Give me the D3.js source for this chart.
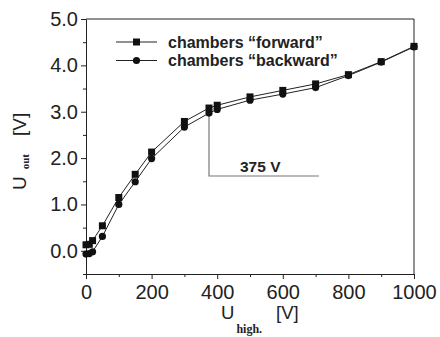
<!DOCTYPE html>
<html>
<head>
<meta charset="utf-8">
<script src="https://cdn.jsdelivr.net/npm/d3@7"></script>
<style>
  body { margin: 0; background: #fff; }
  text { font-family: "Liberation Sans", Arial, sans-serif; }
</style>
</head>
<body>
<div id="chart"></div>
<script>
// data
const voltages = [0, 10, 20, 50, 100, 150, 200, 300, 375, 400, 500, 600, 700, 800, 900, 1000];
const forward = [0.13, 0.14, 0.22, 0.54, 1.15, 1.65, 2.13, 2.79, 3.08, 3.14, 3.32, 3.46, 3.60, 3.80, 4.08, 4.41];
const backward = [-0.07, -0.06, -0.02, 0.31, 1.00, 1.49, 1.99, 2.67, 2.97, 3.05, 3.25, 3.38, 3.52, 3.78, 4.07, 4.40];
const xTicks = [0, 200, 400, 600, 800, 1000];
const yTicks = [0, 1, 2, 3, 4, 5];
const seriesNames = ['chambers \u201cforward\u201d', 'chambers \u201cbackward\u201d'];
const markedVoltage = 375;

const width = 440, height = 337;
const margin = {top: 19, right: 26, bottom: 63, left: 86};
const w = width - margin.left - margin.right;
const h = height - margin.top - margin.bottom;

const svg = d3.select('#chart')
  .append('svg')
  .attr('width', width)
  .attr('height', height);

const g = svg.append('g')
  .attr('transform', 'translate(' + margin.left + ',' + margin.top + ')');

const x = d3.scaleLinear().domain([0, 1000]).range([0, w]);
const y = d3.scaleLinear().domain([-0.5, 5.0]).range([h, 0]);

// frame (top + right)
g.append('path')
  .attr('d', 'M0,0H' + w + 'V' + h)
  .attr('fill', 'none')
  .attr('stroke', '#222')
  .attr('stroke-width', 1);

// x axis: minor then major ticks
g.append('g')
  .attr('transform', 'translate(0,' + h + ')')
  .call(d3.axisBottom(x).tickValues(d3.range(100, 1000, 200)).tickSize(3).tickFormat(''))
  .call(a => a.select('.domain').remove())
  .selectAll('line').attr('stroke', '#222');

const xAxis = g.append('g')
  .attr('transform', 'translate(0,' + h + ')')
  .call(d3.axisBottom(x).tickValues(xTicks).tickSize(5).tickSizeOuter(0).tickPadding(6).tickFormat(d3.format('d')));
xAxis.select('.domain').attr('stroke', '#222');
xAxis.selectAll('line').attr('stroke', '#222');
xAxis.selectAll('text').style('font-size', '20px').attr('fill', '#222');

// y axis
g.append('g')
  .call(d3.axisLeft(y).tickValues(d3.range(-0.5, 5, 1)).tickSize(3).tickFormat(''))
  .call(a => a.select('.domain').remove())
  .selectAll('line').attr('stroke', '#222');

const yAxis = g.append('g')
  .call(d3.axisLeft(y).tickValues(yTicks).tickSize(5).tickSizeOuter(0).tickPadding(3).tickFormat(d3.format('.1f')));
yAxis.select('.domain').attr('stroke', '#222');
yAxis.selectAll('line').attr('stroke', '#222');
yAxis.selectAll('text').style('font-size', '20px').attr('fill', '#222');

// annotation at 375 V
const annY = 176 - margin.top;
g.append('path')
  .attr('d', 'M' + x(markedVoltage) + ',' + (y(backward[8]) + 2) + 'V' + annY + 'H' + x(710))
  .attr('fill', 'none')
  .attr('stroke', '#777')
  .attr('stroke-width', 1.2);
g.append('text')
  .attr('x', x(markedVoltage) + 31)
  .attr('y', annY - 4)
  .style('font-size', '15.5px')
  .style('font-weight', 'bold')
  .attr('fill', '#222')
  .text(markedVoltage + ' V');

// data lines and markers
const line = d3.line().x(d => x(d[0])).y(d => y(d[1]));
const fwd = voltages.map((v, i) => [v, forward[i]]);
const bwd = voltages.map((v, i) => [v, backward[i]]);

[fwd, bwd].forEach(s => {
  g.append('path')
    .datum(s)
    .attr('d', line)
    .attr('fill', 'none')
    .attr('stroke', '#222')
    .attr('stroke-width', 1);
});

g.selectAll('.sq')
  .data(fwd)
  .enter()
  .append('rect')
  .attr('x', d => x(d[0]) - 3.5)
  .attr('y', d => y(d[1]) - 3.5)
  .attr('width', 7)
  .attr('height', 7)
  .attr('fill', '#111');

g.selectAll('.ci')
  .data(bwd)
  .enter()
  .append('circle')
  .attr('cx', d => x(d[0]))
  .attr('cy', d => y(d[1]))
  .attr('r', 3.6)
  .attr('fill', '#111');

// legend
const legend = svg.append('g');
seriesNames.forEach((name, i) => {
  const ly = 42 + i * 18.5;
  legend.append('line')
    .attr('x1', 116).attr('x2', 157)
    .attr('y1', ly).attr('y2', ly)
    .attr('stroke', '#222').attr('stroke-width', 1);
  if (i === 0) {
    legend.append('rect')
      .attr('x', 133).attr('y', ly - 3.5)
      .attr('width', 7).attr('height', 7)
      .attr('fill', '#111');
  } else {
    legend.append('circle')
      .attr('cx', 136.5).attr('cy', ly).attr('r', 3.6)
      .attr('fill', '#111');
  }
  legend.append('text')
    .attr('x', 168)
    .attr('y', ly + 5.5)
    .style('font-size', '16px')
    .style('font-weight', 'bold')
    .attr('fill', '#222')
    .text(name);
});

// axis titles
const yTitle = svg.append('text')
  .attr('transform', 'translate(26,190) rotate(-90)')
  .attr('fill', '#222')
  .style('font-size', '19px');
yTitle.append('tspan').text('U');
yTitle.append('tspan')
  .attr('dx', 7)
  .attr('dy', 3)
  .style('font-family', '"Liberation Serif", serif')
  .style('font-weight', 'bold')
  .style('font-size', '11px')
  .text('out');
yTitle.append('tspan').attr('dx', 18).attr('dy', -3).text('[V]');

const xTitle = svg.append('text')
  .attr('x', 221)
  .attr('y', 319)
  .attr('fill', '#222')
  .style('font-size', '18.5px');
xTitle.append('tspan').text('U');
xTitle.append('tspan')
  .attr('dx', 2)
  .attr('dy', 14)
  .style('font-family', '"Liberation Serif", serif')
  .style('font-weight', 'bold')
  .style('font-size', '12px')
  .text('high.');
xTitle.append('tspan').attr('dx', 14).attr('dy', -14).text('[V]');
</script>
</body>
</html>
